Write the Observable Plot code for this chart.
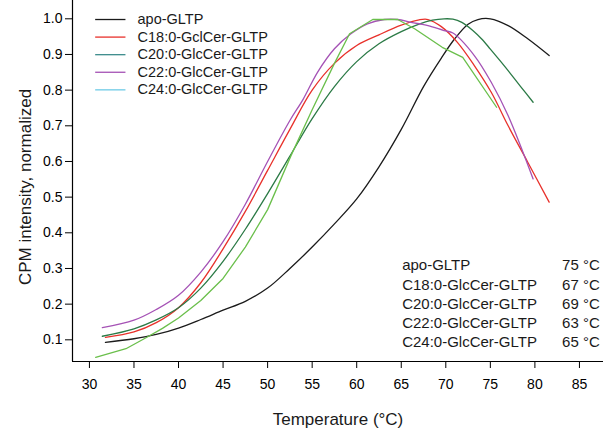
<!DOCTYPE html>
<html>
<head>
<meta charset="utf-8">
<script src="https://cdn.jsdelivr.net/npm/d3@7"></script>
<script src="https://cdn.jsdelivr.net/npm/@observablehq/plot@0.6"></script>
<style>
  html, body { margin: 0; padding: 0; background: #fff; }
  #chart svg { display: block; font-family: "Liberation Sans", Arial, sans-serif; }
</style>
</head>
<body>
<div id="chart"></div>
<script>
// ---- data (temperature °C, normalized CPM intensity) ----
const apo = [[31.8,0.093],[35,0.103],[37.5,0.115],[40,0.133],[42.5,0.157],[45,0.183],[47.5,0.208],[50,0.245],[52.5,0.3],[55,0.36],[57.5,0.425],[60,0.495],[62.5,0.585],[65,0.69],[67.5,0.81],[69.5,0.89],[71,0.944],[72.5,0.985],[73.6,0.998],[75,1.0],[77,0.981],[79.2,0.944],[81.6,0.897]];
const c18 = [[31.8,0.107],[35,0.122],[37.5,0.148],[40,0.19],[42.5,0.26],[45,0.355],[47.5,0.46],[50,0.575],[52.5,0.69],[55,0.80],[57.5,0.875],[60,0.925],[62.5,0.955],[65,0.982],[67,0.997],[68,0.998],[69.5,0.978],[71.3,0.934],[73.2,0.869],[75.1,0.794],[77,0.70],[79.2,0.598],[81.6,0.486]];
const c20 = [[31.45,0.11],[35,0.131],[37.5,0.156],[40,0.19],[42.5,0.245],[45,0.32],[47.5,0.41],[50,0.51],[52.5,0.615],[55,0.72],[57.5,0.81],[60,0.88],[62.5,0.93],[65,0.964],[67,0.985],[68.5,0.996],[69.8,1.0],[70.8,0.999],[71.8,0.99],[73,0.968],[74,0.944],[75,0.915],[76.2,0.879],[77.3,0.845],[78.4,0.81],[79.8,0.766]];
const c22 = [[31.45,0.134],[35,0.155],[37.5,0.185],[40,0.225],[42.5,0.29],[45,0.375],[47.5,0.48],[50,0.6],[52.5,0.715],[54,0.775],[55.6,0.85],[57.5,0.916],[59.35,0.958],[61.2,0.986],[63.1,0.998],[64.6,0.998],[66.1,0.99],[68,0.981],[69.8,0.967],[70.8,0.96],[73.2,0.897],[75.1,0.822],[77,0.728],[79.8,0.551]];
const c24 = [[30.7,0.051],[34.1,0.075],[36.3,0.105],[38.2,0.132],[40,0.161],[42.5,0.21],[45,0.272],[47.5,0.36],[50,0.465],[52.6,0.615],[55,0.745],[57.5,0.875],[59.2,0.958],[61.8,0.998],[64.6,0.998],[66.5,0.972],[69.6,0.92],[71.9,0.892],[75.7,0.752]];

const legendNames = ["apo-GLTP","C18:0-GclCer-GLTP","C20:0-GlcCer-GLTP","C22:0-GlcCer-GLTP","C24:0-GlcCer-GLTP"];
const tableNames = ["apo-GLTP","C18:0-GlcCer-GLTP","C20:0-GlcCer-GLTP","C22:0-GlcCer-GLTP","C24:0-GlcCer-GLTP"];
const tableTm = [75, 67, 69, 63, 65];
const yTicks = [0.1,0.2,0.3,0.4,0.5,0.6,0.7,0.8,0.9,1.0];
const xTicks = [30,35,40,45,50,55,60,65,70,75,80,85];

// ---- styles ----
const curveColors = ["#1b1b1b","#e8312b","#2b7a46","#a552b5","#6abf4b"];
const legendColors = ["#1b1b1b","#e8312b","#3c8c8c","#a552b5","#6fcbe6"];
const series = [apo, c18, c20, c22, c24];
const curves = ["catmull-rom","catmull-rom","catmull-rom","catmull-rom","linear"];

const xDomain = [28.1, 87.7];
const yDomain = [0.0392, 1.0513];

// legend / table placement in data units
const legX1 = 30.7, legX2 = 34.1, legTextX = 35.4, legTop = 0.998, legStep = 0.0493;
const tabX = 65.1, tabTmX = 83.05, tabTop = 0.308, tabStep = 0.0538;

const legendRows = legendNames.map((n, i) => ({n, i, y: legTop - i*legStep}));
const tableRows = tableNames.map((n, i) => ({n, tm: tableTm[i] + " °C", y: tabTop - i*tabStep}));

const marks = [
  Plot.ruleX([xDomain[0]], {stroke: "#000", strokeWidth: 1.2}),
  Plot.ruleY([yDomain[0]], {stroke: "#000", strokeWidth: 1.2}),
  Plot.axisY(yTicks, {tickFormat: d3.format(".1f"), tickSize: 7, tickPadding: 3, fontSize: 14, label: null, stroke: "#000"}),
  Plot.axisX(xTicks, {tickSize: 7, tickPadding: 11, fontSize: 14, label: null, stroke: "#000"}),
  ...series.map((s, i) => Plot.line(s, {x: d => d[0], y: d => d[1], stroke: curveColors[i], strokeWidth: 1.3, curve: curves[i]})),
  Plot.ruleY(legendRows, {x1: legX1, x2: legX2, y: "y", stroke: (d) => legendColors[d.i], strokeWidth: 1.3}),
  Plot.text(legendRows, {x: legTextX, y: "y", text: "n", textAnchor: "start", fontSize: 14.5, fill: "#1a1a1a"}),
  Plot.text(tableRows, {x: tabX, y: "y", text: "n", textAnchor: "start", fontSize: 15, fill: "#1a1a1a"}),
  Plot.text(tableRows, {x: tabTmX, y: "y", text: "tm", textAnchor: "start", fontSize: 15, fill: "#1a1a1a"}),
  Plot.text(["Temperature (°C)"], {frameAnchor: "bottom", lineAnchor: "middle", textAnchor: "middle", dy: 58, fontSize: 17, fill: "#1a1a1a"}),
  Plot.text(["CPM intensity, normalized"], {frameAnchor: "left", textAnchor: "middle", lineAnchor: "middle", rotate: -90, dx: -47, dy: 6, fontSize: 17, fill: "#1a1a1a"})
];

const chart = Plot.plot({
  width: 605,
  height: 431,
  marginLeft: 72,
  marginRight: 2,
  marginTop: 0,
  marginBottom: 70,
  style: {fontFamily: '"Liberation Sans", Arial, sans-serif', background: "#fff", overflow: "visible"},
  x: {domain: xDomain, axis: null},
  y: {domain: yDomain, axis: null},
  marks
});
document.getElementById("chart").appendChild(chart);
</script>
</body>
</html>
